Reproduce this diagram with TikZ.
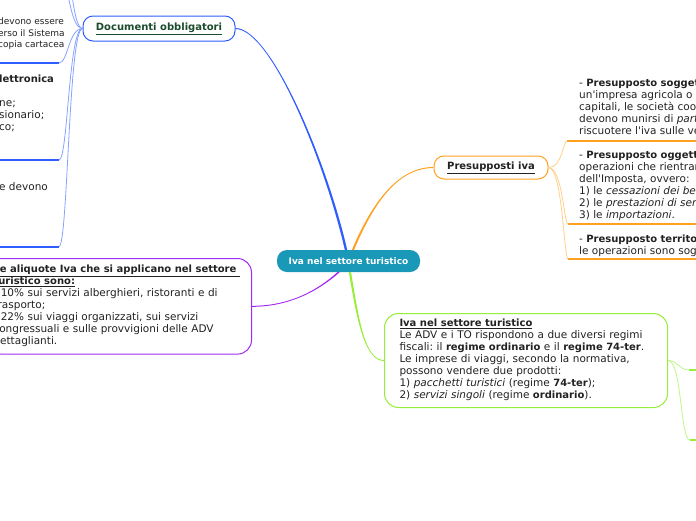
\documentclass[tikz,border=0pt]{standalone}
\usepackage{fontspec}
\setmainfont{DejaVu Sans}[Ligatures=TeXOff]
\frenchspacing
\definecolor{tealc}{HTML}{1A98B8}
\definecolor{blueb}{HTML}{2F5DFF}
\definecolor{bluel}{HTML}{86A2FF}
\definecolor{orangeb}{HTML}{FFA020}
\definecolor{orangel}{HTML}{FFD08A}
\definecolor{purpleb}{HTML}{A22BF2}
\definecolor{greenb}{HTML}{96EE3A}
\definecolor{greenl}{HTML}{BDF58A}
\definecolor{docgreen}{HTML}{1B4B2C}
\definecolor{ink}{HTML}{222222}
\newcommand\bodyfont{\fontsize{10.5}{12}\selectfont}
\newcommand\smallbody{\fontsize{9}{11.3}\selectfont}
\newcommand\bt[1]{{\fontsize{10}{12}\selectfont\bfseries #1}}
\begin{document}
\begin{tikzpicture}[x=1pt,y=-1pt,
  rootbox/.style={rounded corners=10pt, fill=tealc, text=white, font=\fontsize{9}{11}\selectfont\bfseries, minimum width=143pt, minimum height=22pt, inner sep=0pt},
  topicbox/.style={rounded corners=10pt, fill=white, line width=1pt, font=\fontsize{10}{12}\selectfont\bfseries, inner sep=0pt},
  bigbox/.style={rounded corners=14pt, fill=white, line width=1pt, font=\bodyfont, text=ink, align=left},
  leaf/.style={inner sep=0pt, anchor=north west, align=left, text=ink, font=\bodyfont},
  under/.style={line width=2pt},
  twig/.style={line width=0.8pt},
]
\useasboundingbox (0,0) rectangle (696,520);
\clip (0,0) rectangle (696,520);

% main nodes
\node[rootbox] (root) at (348.5,261) {Iva nel settore turistico};
\node[topicbox, draw=blueb, text=docgreen, minimum width=152pt, minimum height=25pt] (docs) at (159,28.5) {\underline{Documenti obbligatori}};
\node[topicbox, draw=orangeb, text=ink, minimum width=114pt, minimum height=23pt] (pres) at (491,167.5) {\underline{Presupposti iva}};
\node[bigbox, draw=purpleb, anchor=north east, text width=252pt, inner xsep=6pt, inner ysep=5.8pt] (aliq) at (252,258)
 {\strut\bt{\underline{Le aliquote Iva che si applicano nel settore\ }}\\
  \bt{\underline{turistico sono:}}\\
  - 10\% sui servizi alberghieri, ristoranti e di\\
  trasporto;\\
  - 22\% sui viaggi organizzati, sui servizi\\
  congressuali e sulle provvigioni delle ADV\\
  dettaglianti.\strut};
\node[bigbox, draw=greenb, anchor=north west, text width=253pt, inner xsep=15pt, inner ysep=5pt] (ivat) at (384,313)
 {\strut\bt{\underline{Iva nel settore turistico}}\\
  Le ADV e i TO rispondono a due diversi regimi\\
  fiscali: il \bt{regime ordinario} e il \bt{regime 74-ter}.\\
  Le imprese di viaggi, secondo la normativa,\\
  possono vendere due prodotti:\\
  1) \textit{pacchetti turistici} (regime \bt{74-ter});\\
  2) \textit{servizi singoli} (regime \bt{ordinario}).\strut};

% main tapered branches
\fill[blueb] ([xshift=-3.7pt]root.north) .. controls +(-21,-91) and +(35,0) .. ([yshift=-0.5pt]docs.east)
  -- ([yshift=0.5pt]docs.east) .. controls +(35,0) and +(-21,-91) .. ([xshift=-1.3pt]root.north) -- cycle;
\fill[orangeb] ([xshift=3.4pt]root.north) .. controls +(17,-40) and +(-39,0) .. ([yshift=0.5pt]pres.west)
  -- ([yshift=-0.5pt]pres.west) .. controls +(-39,0) and +(17,-40) .. ([xshift=5.6pt]root.north) -- cycle;
\fill[purpleb] ([xshift=-8.9pt]root.south) .. controls +(-20,18) and +(38,0) .. ([yshift=-0.5pt]aliq.east)
  -- ([yshift=0.5pt]aliq.east) .. controls +(38,0) and +(-20,18) .. ([xshift=-11.1pt]root.south) -- cycle;
\fill[greenb] ([xshift=2.6pt]root.south) .. controls +(8,49) and +(-19,0) .. ([yshift=0.5pt]ivat.west)
  -- ([yshift=-0.5pt]ivat.west) .. controls +(-19,0) and +(8,49) .. ([xshift=0.4pt]root.south) -- cycle;

% Documenti obbligatori children
\node[leaf, font=\smallbody] (dA) at (-2,16.6) {\strut devono essere\\ erso il Sistema\\ copia cartacea};
\node[leaf] (dB) at (-1,73.6) {\strut\bt{lettronica}\\[12pt] ne;\\ sionario;\\ co;};
\node[leaf] (dC) at (-1,181.6) {\strut e devono};
\coordinate (uT2) at (59,-95);
\coordinate (uT1) at (59,-30);
\coordinate (uA) at (59,63);
\coordinate (uB) at (59,160);
\coordinate (uC) at (59,246.5);
\foreach \u in {uT2,uT1,uA,uB,uC}{
  \draw[under, blueb] (\u) -- ++(-80,0);
  \draw[twig, bluel] (\u) .. controls +(9,0) and +(-14,0) .. (docs.west);
}

% Presupposti iva children
\node[leaf] (p1) at (579,78.3) {\strut- \bt{Presupposto sogget}\\ un'impresa agricola o c\\ capitali, le società coop\\ devono munirsi di \textit{parti}\\ riscuotere l'iva sulle ven};
\node[leaf] (p2) at (579,150.3) {\strut- \bt{Presupposto oggett}\\ operazioni che rientrano\\ dell'Imposta, ovvero:\\ 1) le \textit{cessazioni dei ben}\\ 2) le \textit{prestazioni di serv}\\ 3) le \textit{importazioni}.};
\node[leaf] (p3) at (579,234.3) {\strut- \bt{Presupposto territo}\\ le operazioni sono sogg};
\coordinate (q1) at (567,141);
\coordinate (q2) at (568,224);
\coordinate (q3) at (568,259);
\foreach \u in {q1,q2,q3}{
  \draw[under, orangeb] (\u) -- ++(140,0);
  \draw[twig, orangel] (pres.east) .. controls +(14,0) and +(-4,0) .. (\u);
}

% Iva nel settore turistico children
\coordinate (g1) at (689,370);
\coordinate (g2) at (690,440);
\draw[under, greenb] (g1) -- ++(30,0);
\draw[under, greenb] (g2) -- ++(30,0);
\draw[twig, greenl] (ivat.east) .. controls +(10,0) and +(-10,0) .. (g1);
\draw[twig, greenl] (ivat.east) .. controls +(14,0) and +(-10,0) .. (g2);
\end{tikzpicture}
\end{document}
